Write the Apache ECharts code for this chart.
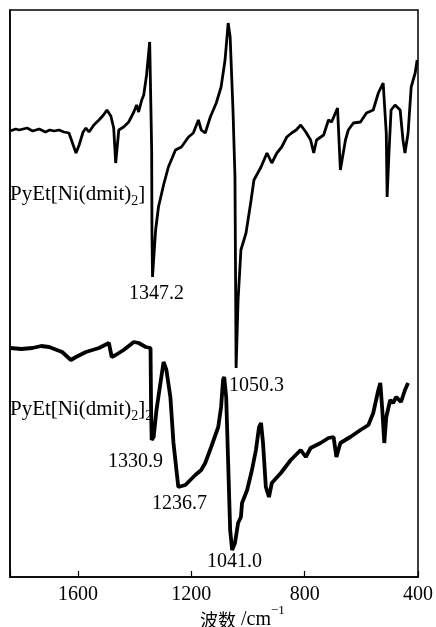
<!DOCTYPE html>
<html>
<head>
<meta charset="utf-8">
<script src="https://cdn.jsdelivr.net/npm/echarts@6/dist/echarts.min.js"></script>
<style>html,body{margin:0;padding:0;background:#fff;}#c{width:436px;height:627px;}</style>
</head>
<body>
<div id="c"></div>
<script>
// Wavenumbers (cm-1) and relative transmittance (arbitrary units)
var wnTop = [1840,1820,1807,1780,1760,1737,1715,1700,1684,1667,1650,1632,1607,1596,1582,1572,1561,1544,1526,1510,1498,1484,1474,1467,1456,1439,1421,1403,1393,1386,1375,1368,1358,1347,1340,1339,1337,1326,1316,1298,1281,1256,1235,1210,1193,1175,1165,1151,1133,1112,1095,1081,1070,1063,1053,1046,1042,1035,1025,1007,989,979,954,933,916,898,881,863,846,830,814,796,779,768,758,733,716,705,684,674,656,646,628,603,582,558,540,523,512,509,502,495,481,463,453,446,435,424,410,403];
var valTop = [446,448,447,449,446,448,445,447,446,447,445,444,424,432,445,449,445,452,457,462,467,461,449,414,447,450,455,465,472,465,477,482,502,535,427,347,300,347,370,392,410,427,430,440,444,457,447,444,460,474,490,517,554,540,467,400,209,277,327,344,377,397,410,424,414,424,430,440,444,447,452,445,437,424,437,442,457,455,469,407,437,447,454,455,464,467,484,494,444,380,427,467,472,467,437,424,444,490,504,517];
var wnBot = [1840,1800,1761,1730,1702,1656,1625,1607,1572,1526,1491,1481,1467,1439,1403,1386,1361,1344,1342,1340,1333,1323,1309,1298,1288,1274,1263,1246,1221,1186,1165,1151,1130,1105,1095,1088,1084,1077,1070,1063,1056,1046,1035,1025,1021,1003,986,972,961,954,947,937,926,916,884,849,814,796,779,744,716,698,688,674,639,603,575,558,540,533,526,519,512,498,488,477,460,446,435];
var valBot = [229,228,229,231,230,225,217,220,225,229,234,220,222,227,235,234,230,229,167,137,140,167,194,215,207,180,134,90,92,102,107,114,130,150,170,197,200,180,114,47,27,34,54,60,74,87,107,127,150,154,134,90,80,94,104,117,127,120,129,134,139,140,120,134,140,147,152,164,187,194,167,134,160,177,174,180,175,187,194];
var xTicks = [1600,1200,800,400];
var seriesNames = ['PyEt[Ni(dmit)2]','PyEt[Ni(dmit)2]2'];
var peakLabels = ['1347.2','1050.3','1330.9','1236.7','1041.0'];

function pairs(a,b){return a.map(function(x,i){return [x,b[i]];});}
var serif = '"Liberation Serif","Times New Roman",serif';
var chart = echarts.init(document.getElementById('c'));
var sub = {fontFamily: serif, fontSize: 14, verticalAlign:'bottom', padding:[0,0,-3,0], color:'#000'};
chart.setOption({
  animation:false,
  backgroundColor:'#fff',
  grid:{left:10,right:16,top:10,bottom:50,show:true,borderColor:'#000',borderWidth:1.5},
  xAxis:{type:'value',inverse:true,min:400,max:1840,interval:400,
    axisLine:{show:true,lineStyle:{color:'#000',width:1.5}},
    axisTick:{show:true,inside:true,length:6,lineStyle:{color:'#000',width:1.2}},
    axisLabel:{color:'#000',fontFamily:serif,fontSize:20,margin:8,
      formatter:function(v){return xTicks.indexOf(v)>=0?String(v):'';}},
    splitLine:{show:false}},
  yAxis:{type:'value',min:0,max:567,show:true,
    axisLine:{show:true,lineStyle:{color:'#000',width:1.5}},
    axisTick:{show:false},axisLabel:{show:false},splitLine:{show:false}},
  series:[
    {name:seriesNames[0],type:'line',data:pairs(wnTop,valTop),symbol:'none',lineStyle:{color:'#000',width:2.8},z:3},
    {name:seriesNames[1],type:'line',data:pairs(wnBot,valBot),symbol:'none',lineStyle:{color:'#000',width:3.8},z:3}
  ],
  graphic:[
    {type:'text', left:10, top:184, z:10, style:{text:'PyEt[Ni(dmit){s|2}]', fill:'#000', fontFamily:serif, fontSize:21, rich:{s:sub}}},
    {type:'text', left:10, top:399, z:1, style:{text:'PyEt[Ni(dmit){s|2}]{s|2}', fill:'#000', fontFamily:serif, fontSize:21, rich:{s:sub}}},
    {type:'text', left:129, top:284, style:{text:peakLabels[0], fill:'#000', fontFamily:serif, fontSize:20}},
    {type:'text', left:229, top:376, style:{text:peakLabels[1], fill:'#000', fontFamily:serif, fontSize:20}},
    {type:'text', left:108, top:452, style:{text:peakLabels[2], fill:'#000', fontFamily:serif, fontSize:20}},
    {type:'text', left:152, top:494, style:{text:peakLabels[3], fill:'#000', fontFamily:serif, fontSize:20}},
    {type:'text', left:207, top:552, style:{text:peakLabels[4], fill:'#000', fontFamily:serif, fontSize:20}},
    {type:'text', x:200, y:620, style:{text:'{c|波数} /cm{p|−1}', fill:'#000', fontFamily:serif, fontSize:20, textVerticalAlign:'middle', verticalAlign:'middle',
      rich:{c:{fontFamily:'"Noto Sans CJK SC"',fontSize:18,color:'#000'}, p:{fontFamily:serif,fontSize:13,verticalAlign:'top',padding:[-6,0,0,0],color:'#000'}}}}
  ]
});
</script>
</body>
</html>
